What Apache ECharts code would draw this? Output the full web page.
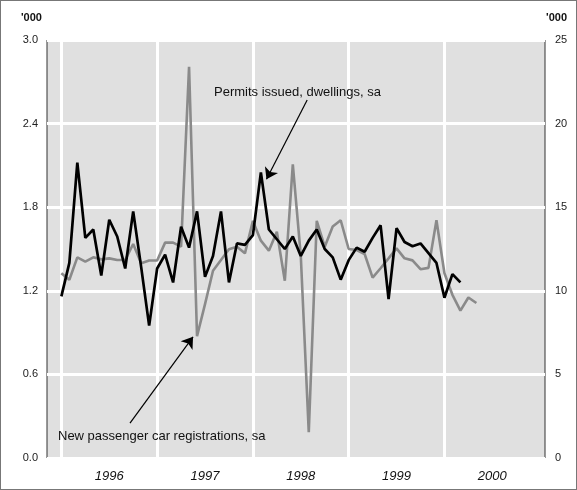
<!DOCTYPE html>
<html>
<head>
<meta charset="utf-8">
<script src="https://cdn.jsdelivr.net/npm/echarts@6/dist/echarts.min.js"></script>
<style>
html,body{margin:0;padding:0;background:#fff;}
#c{width:577px;height:490px;box-sizing:border-box;border:1px solid #777;}
</style>
</head>
<body>
<div id="c"></div>
<script>
// Monthly data, starting January 1996
const startYear = 1996;
const yearLabels = ['1996', '1997', '1998', '1999', '2000'];
// Permits issued, dwellings, sa ('000, left axis)
const permits = [1.16,1.40,2.12,1.58,1.64,1.31,1.71,1.59,1.36,1.77,1.37,0.95,
  1.36,1.46,1.26,1.66,1.51,1.77,1.30,1.45,1.77,1.26,1.54,1.53,
  1.60,2.05,1.64,1.57,1.50,1.59,1.45,1.56,1.64,1.50,1.44,1.28,
  1.42,1.51,1.48,1.58,1.67,1.14,1.65,1.55,1.52,1.54,1.47,1.40,
  1.15,1.32,1.26];
// New passenger car registrations, sa ('000, right axis)
const cars = [11.05,10.66,12.0,11.75,12.0,11.88,11.94,11.84,11.84,12.8,11.65,11.81,
  11.81,12.88,12.88,12.64,23.4,7.28,9.2,11.2,11.84,12.48,12.64,12.24,
  14.18,13.0,12.4,13.53,10.6,17.56,12.1,1.55,14.18,12.64,13.85,14.22,
  12.5,12.44,12.2,10.79,11.35,11.94,12.54,11.94,11.82,11.29,11.37,14.22,
  11.05,9.76,8.81,9.6,9.27];
const yearStarts = [0, 12, 24, 36, 48];
const yearMids = [6, 18, 30, 42, 54];

const font = 'Liberation Sans, Arial, Helvetica, sans-serif';
const chart = echarts.init(document.getElementById('c'));
chart.setOption({
  animation: false,
  grid: {left: 46, right: 31, top: 39, bottom: 31, show: true,
         backgroundColor: '#e0e0e0', borderColor: '#333', borderWidth: 1},
  xAxis: {
    type: 'value', min: -1.8, max: 60.6,
    axisLine: {show: false}, axisTick: {show: false}, splitLine: {show: false},
    axisLabel: {
      customValues: yearMids, margin: 12,
      fontFamily: font, fontSize: 13, fontStyle: 'italic', color: '#111',
      formatter: v => yearLabels[Math.round((v - 6) / 12)]
    }
  },
  yAxis: [
    {type: 'value', min: 0, max: 3.0, interval: 0.6,
     axisLine: {show: false}, axisTick: {show: false},
     axisLabel: {fontFamily: font, fontSize: 11, color: '#222', margin: 9,
                 formatter: v => v.toFixed(1)},
     splitLine: {show: true, lineStyle: {color: '#fff', width: 3}}},
    {type: 'value', min: 0, max: 25, interval: 5,
     axisLine: {show: false}, axisTick: {show: false},
     axisLabel: {fontFamily: font, fontSize: 11, color: '#222', margin: 10},
     splitLine: {show: false}}
  ],
  series: [
    {type: 'line', data: [], z: 1, silent: true,
     markLine: {silent: true, z: 1, symbol: ['none', 'none'], label: {show: false},
                lineStyle: {color: '#fff', width: 3, type: 'solid'},
                data: yearStarts.map(v => ({xAxis: v}))}},
    {name: 'New passenger car registrations, sa', type: 'line', yAxisIndex: 1, z: 3,
     data: cars.map((v, i) => [i, v]), showSymbol: false,
     lineStyle: {color: '#8a8a8a', width: 2.6}},
    {name: 'Permits issued, dwellings, sa', type: 'line', yAxisIndex: 0, z: 4,
     data: permits.map((v, i) => [i, v]), showSymbol: false,
     lineStyle: {color: '#000', width: 2.7},
     markLine: {silent: true, z: 6, symbol: ['none', 'arrow'], symbolSize: 11,
                label: {show: false}, lineStyle: {color: '#000', width: 1.2, type: 'solid'},
                data: [
                  [{coord: [30.8, 2.57]}, {coord: [25.7, 2.0]}],
                  [{coord: [8.6, 0.25]}, {coord: [16.5, 0.87]}]
                ]}}
  ],
  graphic: [
    {type: 'text', left: 20, top: 11, z: 10,
     style: {text: "'000", font: 'bold 11px ' + font, fill: '#111'}},
    {type: 'text', right: 9, top: 11, z: 10,
     style: {text: "'000", font: 'bold 11px ' + font, fill: '#111'}},
    {type: 'text', left: 213, top: 85, z: 10,
     style: {text: 'Permits issued, dwellings, sa', font: '13px ' + font, fill: '#111'}},
    {type: 'text', left: 57, top: 429, z: 10,
     style: {text: 'New passenger car registrations, sa', font: '13px ' + font, fill: '#111'}}
  ]
});
</script>
</body>
</html>
